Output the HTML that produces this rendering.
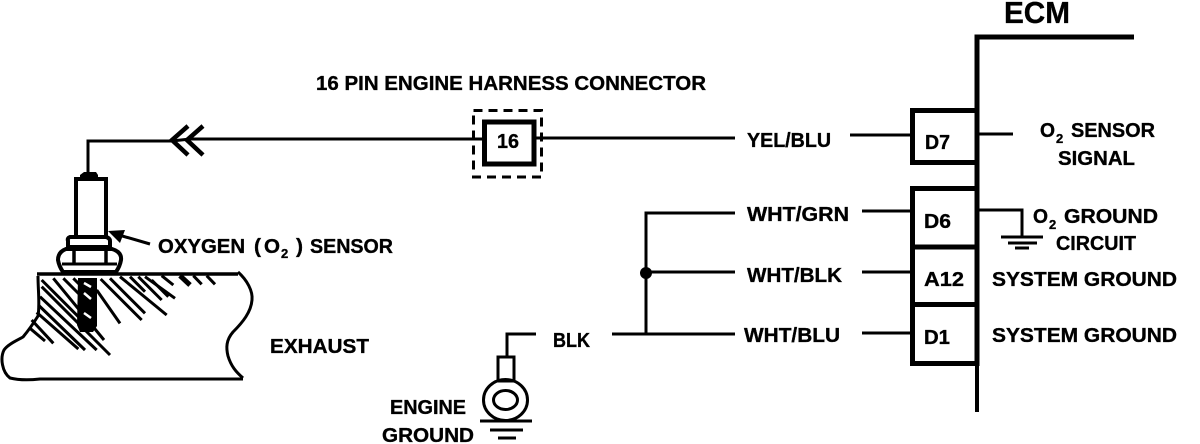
<!DOCTYPE html>
<html>
<head>
<meta charset="utf-8">
<style>
html,body{margin:0;padding:0;background:#fff;width:1200px;height:444px;overflow:hidden}
svg{display:block}
text{font-family:"Liberation Sans",sans-serif;font-weight:bold;font-size:20px;fill:#000;stroke:#000;stroke-width:.35px}
</style>
</head>
<body>
<svg width="1200" height="444" viewBox="0 0 1200 444" xmlns="http://www.w3.org/2000/svg">
<g fill="none" stroke="#000" stroke-width="3">
<!-- top wire -->
<path d="M88 172V141H172L190 139H482M536 138H735"/>
<path d="M188 126L172 140L188 155M203 126L187 140L203 155" stroke-width="4.500"/>
<!-- sensor -->
<rect x="76" y="179" width="30" height="58" stroke-width="4"/>
<path d="M80 180V175L84 172H96L98 175V180Z" fill="#000" stroke="none"/>
<path d="M112 233L150 244" stroke-width="3"/>
<path d="M108 231L125 230L120 243Z" fill="#000" stroke="none"/>
<path d="M70 237H106Q110 238 110 241V247H68V241Q67 238 70 237Z" stroke-width="4"/>
<path d="M66 249H112Q122 252 121 260Q120 266 116 272H63Q59 266 58 260Q58 252 66 249Z" stroke-width="4"/>
<path d="M74 250V264M106 250V264" stroke-width="3.500"/>
<path d="M62 264H117" stroke-width="3"/>
<!-- exhaust outline -->
<path d="M37 274H238" stroke-width="3.500"/>
<path d="M238 272C247 280 253 291 252 300C251 312 243 322 233 332C226 340 226 348 228 356C231 366 236 372 243 378" stroke-width="3"/>
<path d="M243 379H40Q22 381 10 378C2 372 0 358 4 350C8 344 18 340 23 337C28 331 33 324 38 316C40 305 38 290 38 276" stroke-width="3"/>
<!-- hatches (traced in 3x crop coordinates) -->
<g transform="translate(30 225) scale(.33333)" stroke-width="9">
<path d="M35 185L240 390"/>
<path d="M30 215L200 375"/>
<path d="M35 165L160 290"/>
<path d="M25 240L165 375"/>
<path d="M20 262L145 372"/>
<path d="M5 285L70 355"/>
<path d="M0 310L45 348"/>
<path d="M70 160L222 345"/>
<path d="M100 160L150 210"/>
<path d="M130 160L150 180"/>
<path d="M200 195L270 295"/>
<path d="M212 162L335 285"/>
<path d="M240 160L345 265"/>
<path d="M270 155L410 270"/>
<path d="M300 155L345 200"/>
<path d="M325 155L395 225"/>
<path d="M345 155L435 220"/>
<path d="M365 165L415 215"/>
<path d="M395 152L430 180"/>
<path d="M450 152L480 180" stroke-width="15"/>
<path d="M490 152L515 178"/>
<path d="M530 152L555 178"/>
</g>
<path d="M78 278H97V326L93 332H80L77 325Z" fill="#000" stroke="none"/>
<path d="M84 283L91 287M84 293L91 299M84 313L91 318" stroke="#fff" stroke-width="2.500"/>
<!-- connector -->
<rect x="484.500" y="122" width="49.500" height="42" stroke-width="5"/>
<rect x="473.500" y="110.500" width="68" height="66.500" stroke-width="3" stroke-dasharray="9 6"/>
<!-- ECM -->
<path d="M1134 37H977V366" stroke-width="5"/>
<path d="M977 366V412" stroke-width="4"/>
<path d="M977 110.500H912.500V162.500H977M977 188.500H912.500V363.500H977M912.500 247H977M912.500 304.500H977" stroke-width="5"/>
<!-- pin wires -->
<path d="M850 135H912M862 211H912M862 272H912M862 333H912"/>
<path d="M979 134H1013M979 210H1022V236"/>
<path d="M1001 237H1043M1008 243H1037M1015 248H1029"/>
<!-- centre bus -->
<path d="M735 213H646V335M646 272H735M612 334H735"/>
<circle cx="646" cy="273" r="6" fill="#000" stroke="none"/>
<!-- engine ground -->
<path d="M536 334H507V357"/>
<rect x="498" y="357" width="16" height="24"/>
<ellipse cx="505.500" cy="400" rx="22" ry="20.500" stroke-width="3"/>
<ellipse cx="505.500" cy="400" rx="12" ry="9.500" stroke-width="3"/>
<path d="M480 421H532M490 430H523M498 438H516" stroke-width="3"/>
</g>
<!-- labels -->
<g lengthAdjust="spacingAndGlyphs">
<text x="1004" y="23" style="font-size:31px" textLength="66" lengthAdjust="spacingAndGlyphs">ECM</text>
<text x="316" y="90" textLength="390" lengthAdjust="spacingAndGlyphs">16 PIN ENGINE HARNESS CONNECTOR</text>
<text x="497" y="148" textLength="22" lengthAdjust="spacingAndGlyphs">16</text>
<text x="158" y="253" textLength="87" lengthAdjust="spacingAndGlyphs">OXYGEN</text>
<text x="254" y="253" textLength="7" lengthAdjust="spacingAndGlyphs">(</text>
<text x="264" y="253" textLength="16" lengthAdjust="spacingAndGlyphs">O</text>
<text x="281" y="258" style="font-size:13px">2</text>
<text x="296" y="253" textLength="7" lengthAdjust="spacingAndGlyphs">)</text>
<text x="310" y="253" textLength="83" lengthAdjust="spacingAndGlyphs">SENSOR</text>
<text x="270" y="353" textLength="99" lengthAdjust="spacingAndGlyphs">EXHAUST</text>
<text x="747" y="147" textLength="84" lengthAdjust="spacingAndGlyphs">YEL/BLU</text>
<text x="747" y="221" textLength="102" lengthAdjust="spacingAndGlyphs">WHT/GRN</text>
<text x="747" y="282" textLength="95" lengthAdjust="spacingAndGlyphs">WHT/BLK</text>
<text x="744" y="342" textLength="96" lengthAdjust="spacingAndGlyphs">WHT/BLU</text>
<text x="553" y="347" textLength="37" lengthAdjust="spacingAndGlyphs">BLK</text>
<text x="390" y="414" textLength="76" lengthAdjust="spacingAndGlyphs">ENGINE</text>
<text x="382" y="442" textLength="92" lengthAdjust="spacingAndGlyphs">GROUND</text>
<text x="925" y="149" textLength="25" lengthAdjust="spacingAndGlyphs">D7</text>
<text x="924" y="228" textLength="27" lengthAdjust="spacingAndGlyphs">D6</text>
<text x="924" y="286" textLength="40" lengthAdjust="spacingAndGlyphs">A12</text>
<text x="924" y="344" textLength="26" lengthAdjust="spacingAndGlyphs">D1</text>
<text x="1040" y="137" textLength="15" lengthAdjust="spacingAndGlyphs">O</text>
<text x="1056" y="143" style="font-size:13px">2</text>
<text x="1071" y="137" textLength="84" lengthAdjust="spacingAndGlyphs">SENSOR</text>
<text x="1058" y="165" textLength="77" lengthAdjust="spacingAndGlyphs">SIGNAL</text>
<text x="1033" y="223" textLength="15" lengthAdjust="spacingAndGlyphs">O</text>
<text x="1049" y="229" style="font-size:13px">2</text>
<text x="1064" y="223" textLength="94" lengthAdjust="spacingAndGlyphs">GROUND</text>
<text x="1056" y="250" textLength="80" lengthAdjust="spacingAndGlyphs">CIRCUIT</text>
<text x="992" y="286" textLength="185" lengthAdjust="spacingAndGlyphs">SYSTEM GROUND</text>
<text x="992" y="342" textLength="185" lengthAdjust="spacingAndGlyphs">SYSTEM GROUND</text>
</g>
</svg>
</body>
</html>
